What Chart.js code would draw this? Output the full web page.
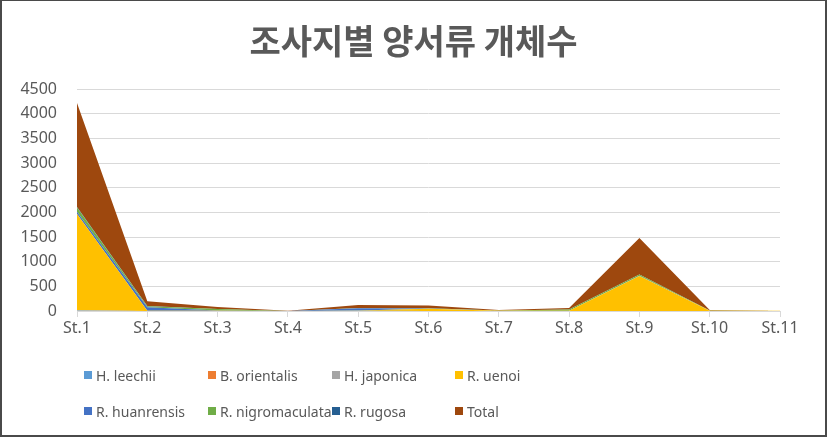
<!DOCTYPE html>
<html>
<head>
<meta charset="utf-8">
<script src="https://cdn.jsdelivr.net/npm/chart.js@4/dist/chart.umd.min.js"></script>
<style>
	html, body { margin: 0; padding: 0; background: #fff; }
	#wrap { position: relative; width: 827px; height: 437px; overflow: hidden; }
	#wrap canvas { position: absolute; left: 0; top: 0; }
	#title { position: absolute; left: 0; top: 16px; width: 827px; height: 48px; line-height: 48px; text-align: center;
		font-family: "Noto Sans CJK KR", sans-serif; font-size: 34px; font-weight: bold; color: #595959; }
	#frame { position: absolute; left: 0; top: 0; width: 827px; height: 437px; box-sizing: border-box;
		border-style: solid; border-color: #4a4a4a; border-width: 1px 2px 2px 2px; pointer-events: none; }
	#legend { position: absolute; left: 84px; top: 364px; display: grid;
		grid-template-columns: 124px 124px 123px 124px; grid-auto-rows: 36px;
		font-family: "Noto Sans", sans-serif; font-size: 14px; color: #595959; }
	#legend .item { display: flex; align-items: center; height: 22px; white-space: nowrap; }
	#legend .box { width: 8px; height: 8px; margin-right: 4px; flex: none; }
</style>
</head>
<body>
<div id="wrap">
	<canvas id="chart" width="827" height="437"></canvas>
	<div id="title">조사지별 양서류 개체수</div>
	<div id="legend"></div>
	<div id="frame"></div>
</div>
<script>
'use strict';

var sites = ['St.1', 'St.2', 'St.3', 'St.4', 'St.5', 'St.6', 'St.7', 'St.8', 'St.9', 'St.10', 'St.11'];

var hLeechii        = [5, 0, 0, 0, 5, 0, 0, 0, 0, 0, 0];
var bOrientalis     = [2, 0, 0, 0, 0, 0, 0, 0, 0, 0, 0];
var hJaponica       = [8, 0, 0, 0, 0, 0, 0, 0, 0, 0, 0];
var rUenoi          = [1950, 5, 5, 1, 5, 45, 5, 5, 710, 5, 3];
var rHuanrensis     = [45, 70, 5, 0, 45, 5, 0, 0, 5, 0, 0];
var rNigromaculata  = [90, 20, 30, 1, 5, 5, 5, 25, 25, 5, 0];
var rRugosa         = [8, 5, 0, 0, 0, 0, 0, 0, 0, 0, 0];
var total           = [2108, 100, 40, 2, 60, 55, 10, 30, 740, 10, 3];

var yTicks = [0, 500, 1000, 1500, 2000, 2500, 3000, 3500, 4000, 4500];

var series = [
	{ label: 'H. leechii', data: hLeechii, color: '#5B9BD5' },
	{ label: 'B. orientalis', data: bOrientalis, color: '#ED7D31' },
	{ label: 'H. japonica', data: hJaponica, color: '#A5A5A5' },
	{ label: 'R. uenoi', data: rUenoi, color: '#FFC000' },
	{ label: 'R. huanrensis', data: rHuanrensis, color: '#4472C4' },
	{ label: 'R. nigromaculata', data: rNigromaculata, color: '#70AD47' },
	{ label: 'R. rugosa', data: rRugosa, color: '#255E91' },
	{ label: 'Total', data: total, color: '#9E480E' }
];

var datasets = series.map(function (s, i) {
	return {
		label: s.label,
		data: s.data,
		backgroundColor: s.color,
		borderColor: s.color,
		borderWidth: 0,
		pointRadius: 0,
		tension: 0,
		fill: i === 0 ? 'origin' : '-1'
	};
});

var tickFont = { family: '"Noto Sans", sans-serif', size: 16 };

var myChart = new Chart(document.getElementById('chart'), {
	type: 'line',
	data: { labels: sites, datasets: datasets },
	options: {
		responsive: false,
		animation: false,
		// chart area: x 77..780, y 89..311
		layout: { padding: { left: 0, right: 47, top: 89, bottom: 92 } },
		plugins: {
			legend: { display: false },
			tooltip: { enabled: false },
			title: { display: false }
		},
		scales: {
			x: {
				offset: false,
				grid: { drawOnChartArea: false, drawTicks: true, tickLength: 6, color: '#d9d9d9' },
				border: { display: true, color: '#d9d9d9' },
				ticks: { color: '#595959', font: tickFont, padding: 2, maxRotation: 0, autoSkip: false },
				afterFit: function (scale) { scale.height = 34; }
			},
			y: {
				stacked: true,
				min: 0,
				max: 4500,
				afterBuildTicks: function (scale) {
					scale.ticks = yTicks.map(function (v) { return { value: v }; });
				},
				grid: { drawTicks: false, color: '#d9d9d9' },
				border: { display: false },
				ticks: {
					color: '#595959',
					font: tickFont,
					padding: 20,
					callback: function (v) { return String(v); }
				},
				afterFit: function (scale) { scale.width = 77; }
			}
		}
	}
});

var legend = document.getElementById('legend');
series.forEach(function (s) {
	var item = document.createElement('div');
	item.className = 'item';
	var box = document.createElement('span');
	box.className = 'box';
	box.style.background = s.color;
	var txt = document.createElement('span');
	txt.textContent = s.label;
	item.appendChild(box);
	item.appendChild(txt);
	legend.appendChild(item);
});
</script>
</body>
</html>
